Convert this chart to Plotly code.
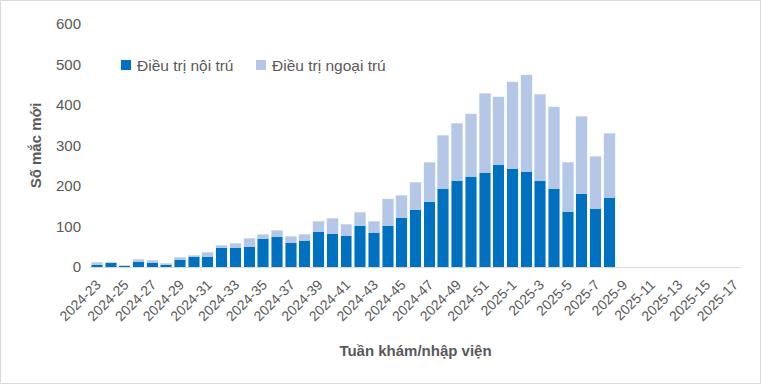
import plotly.graph_objects as go

weeks = [f"2024-{w}" for w in range(23, 53)] + [f"2025-{w}" for w in range(1, 18)]

inpatient = [7, 12, 4, 14, 12, 7, 19, 27, 27, 49, 49, 51, 71, 76, 61, 66, 88, 83, 78, 103,
             86, 103, 123, 142, 162, 194, 214, 224, 234, 254, 244, 236, 214, 194, 138, 182, 145, 172]
outpatient = [5, 0, 0, 5, 5, 2, 5, 2, 9, 5, 10, 20, 10, 15, 15, 15, 25, 37, 27, 32,
              27, 65, 54, 67, 97, 131, 141, 154, 195, 167, 214, 239, 212, 202, 121, 190, 128, 158]

series_names = ["Điều trị nội trú", "Điều trị ngoại trú"]
series_colors = ["#0070C0", "#B4C7E7"]

pad = [None] * (len(weeks) - len(inpatient))
y_in = inpatient + pad
y_out = outpatient + pad

tickvals = weeks[::2]

FONT = "Liberation Sans"
GRAY = "#595959"

fig = go.Figure()
fig.add_trace(go.Bar(x=weeks, y=y_in, name=series_names[0], marker_color=series_colors[0], showlegend=False))
fig.add_trace(go.Bar(x=weeks, y=y_out, name=series_names[1], marker_color=series_colors[1], showlegend=False))

L, R, T, B = 90, 20, 24, 117
W, H = 761, 384
pw, ph = W - L - R, H - T - B

def px(x):
    return (x - L) / pw

def py(y):
    return (H - B - y) / ph

# custom legend (square marker + label)
legend_x = [121, 256]
shapes = [dict(type="rect", xref="paper", yref="paper",
               x0=px(0.5), x1=px(760.5), y0=py(383.5), y1=py(0.5),
               line=dict(color="#D9D9D9", width=1))]
annotations = []
for lx, name, col in zip(legend_x, series_names, series_colors):
    shapes.append(dict(type="rect", xref="paper", yref="paper",
                       x0=px(lx), x1=px(lx + 10), y0=py(70), y1=py(60),
                       fillcolor=col, line=dict(width=0)))
    annotations.append(dict(xref="paper", yref="paper", x=px(lx + 14), y=py(65),
                            xanchor="left", yanchor="middle", showarrow=False,
                            text=name, font=dict(size=15.5, color=GRAY, family=FONT)))

fig.update_layout(
    width=W, height=H,
    barmode="stack", bargap=0.17,
    margin=dict(l=L, r=R, t=T, b=B),
    paper_bgcolor="white", plot_bgcolor="white",
    font=dict(family=FONT, color=GRAY, size=14),
    showlegend=False,
    xaxis=dict(type="category", categoryorder="array", categoryarray=weeks,
               range=[-0.5, len(weeks) - 0.5],
               tickvals=tickvals, ticktext=tickvals, tickangle=-45,
               tickfont=dict(size=14, color=GRAY), ticklabelstandoff=3,
               showline=True, linecolor="#D9D9D9", linewidth=1, ticks="",
               showgrid=False,
               title=dict(text="<b>Tuần khám/nhập viện</b>", font=dict(size=15, color=GRAY), standoff=22)),
    yaxis=dict(range=[0, 600], dtick=100, showgrid=False, zeroline=False,
               tickfont=dict(size=15, color=GRAY), ticks="", ticklabelstandoff=8,
               title=dict(text="<b>Số mắc mới</b>", font=dict(size=15, color=GRAY), standoff=10)),
    shapes=shapes,
    annotations=annotations,
)

fig.write_html("out.html")
